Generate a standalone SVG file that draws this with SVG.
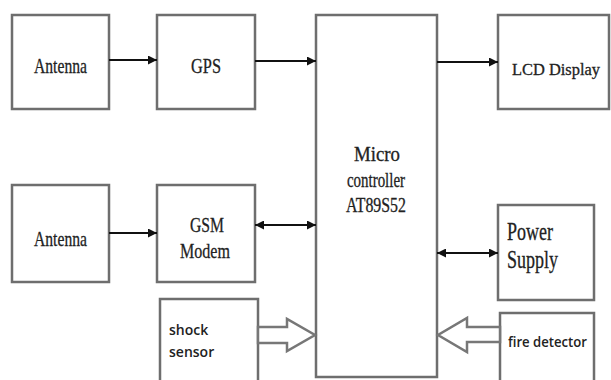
<svg xmlns="http://www.w3.org/2000/svg" width="611" height="380" viewBox="0 0 611 380">
<defs>
<style>
.box{fill:#fff;stroke:#6e6e6e;stroke-width:2.5}
.conn{stroke:#111;stroke-width:2;fill:none}
.hollow{fill:#fff;stroke:#777;stroke-width:2.5;stroke-linejoin:miter}
.serif{font-family:"Liberation Serif","Times New Roman",serif;fill:#222;stroke:#222;stroke-width:0.3}
.sans{font-family:"Open Sans","Liberation Sans",sans-serif;fill:#222;font-weight:600}
</style>
<marker id="ah" viewBox="0 0 10 10" refX="10" refY="5" markerWidth="9" markerHeight="9" markerUnits="userSpaceOnUse" orient="auto-start-reverse">
<path d="M0,0 L10,5 L0,10 z" fill="#111"/>
</marker>
</defs>
<rect width="611" height="380" fill="#fff"/>
<g id="antenna1">
<rect class="box" x="12" y="15" width="97" height="94"/>
<text class="serif" x="34" y="73" font-size="22" textLength="53" lengthAdjust="spacingAndGlyphs">Antenna</text>
</g>
<g id="gps">
<rect class="box" x="157" y="15" width="98" height="94"/>
<text class="serif" x="191" y="73" font-size="22" textLength="30" lengthAdjust="spacingAndGlyphs">GPS</text>
</g>
<g id="mcu">
<rect class="box" x="316" y="15" width="121" height="362"/>
<text class="serif" x="377" y="161" font-size="20" text-anchor="middle" textLength="46" lengthAdjust="spacingAndGlyphs">Micro</text>
<text class="serif" x="376" y="187" font-size="20" text-anchor="middle" textLength="58" lengthAdjust="spacingAndGlyphs">controller</text>
<text class="serif" x="376" y="212" font-size="20" text-anchor="middle" textLength="60" lengthAdjust="spacingAndGlyphs">AT89S52</text>
</g>
<g id="lcd">
<rect class="box" x="498" y="15" width="111" height="94"/>
<text class="serif" x="512" y="75" font-size="17" textLength="88" lengthAdjust="spacingAndGlyphs">LCD Display</text>
</g>
<g id="antenna2">
<rect class="box" x="12" y="185" width="97" height="97"/>
<text class="serif" x="34" y="246" font-size="22" textLength="53" lengthAdjust="spacingAndGlyphs">Antenna</text>
</g>
<g id="gsm">
<rect class="box" x="157" y="185" width="98" height="97"/>
<text class="serif" x="207" y="232" font-size="22" text-anchor="middle" textLength="34" lengthAdjust="spacingAndGlyphs">GSM</text>
<text class="serif" x="205" y="258" font-size="22" text-anchor="middle" textLength="50" lengthAdjust="spacingAndGlyphs">Modem</text>
</g>
<g id="power">
<rect class="box" x="498" y="205" width="96" height="95"/>
<text class="serif" x="507" y="240" font-size="25" textLength="46" lengthAdjust="spacingAndGlyphs">Power</text>
<text class="serif" x="507" y="268" font-size="25" textLength="51" lengthAdjust="spacingAndGlyphs">Supply</text>
</g>
<g id="shock">
<rect class="box" x="160" y="299" width="98" height="90"/>
<text class="sans" x="169" y="335" font-size="14">shock</text>
<text class="sans" x="169" y="357" font-size="14">sensor</text>
</g>
<g id="fire">
<rect class="box" x="500" y="313" width="94" height="80"/>
<text class="sans" x="508" y="347" font-size="14" textLength="79" lengthAdjust="spacingAndGlyphs">fire detector</text>
</g>
<g id="connectors">
<line class="conn" x1="109" y1="60" x2="157" y2="60" marker-end="url(#ah)"/>
<line class="conn" x1="255" y1="61" x2="316" y2="61" marker-end="url(#ah)"/>
<line class="conn" x1="437" y1="62" x2="498" y2="62" marker-end="url(#ah)"/>
<line class="conn" x1="109" y1="233" x2="157" y2="233" marker-end="url(#ah)"/>
<line class="conn" x1="255" y1="225" x2="316" y2="225" marker-start="url(#ah)" marker-end="url(#ah)"/>
<line class="conn" x1="437" y1="253" x2="498" y2="253" marker-start="url(#ah)" marker-end="url(#ah)"/>
<polygon class="hollow" points="258,327 287,327 287,319 315,335 287,351 287,343 258,343"/>
<polygon class="hollow" points="500,327 467,327 467,318 438,335 467,352 467,342 500,342"/>
</g>
</svg>
